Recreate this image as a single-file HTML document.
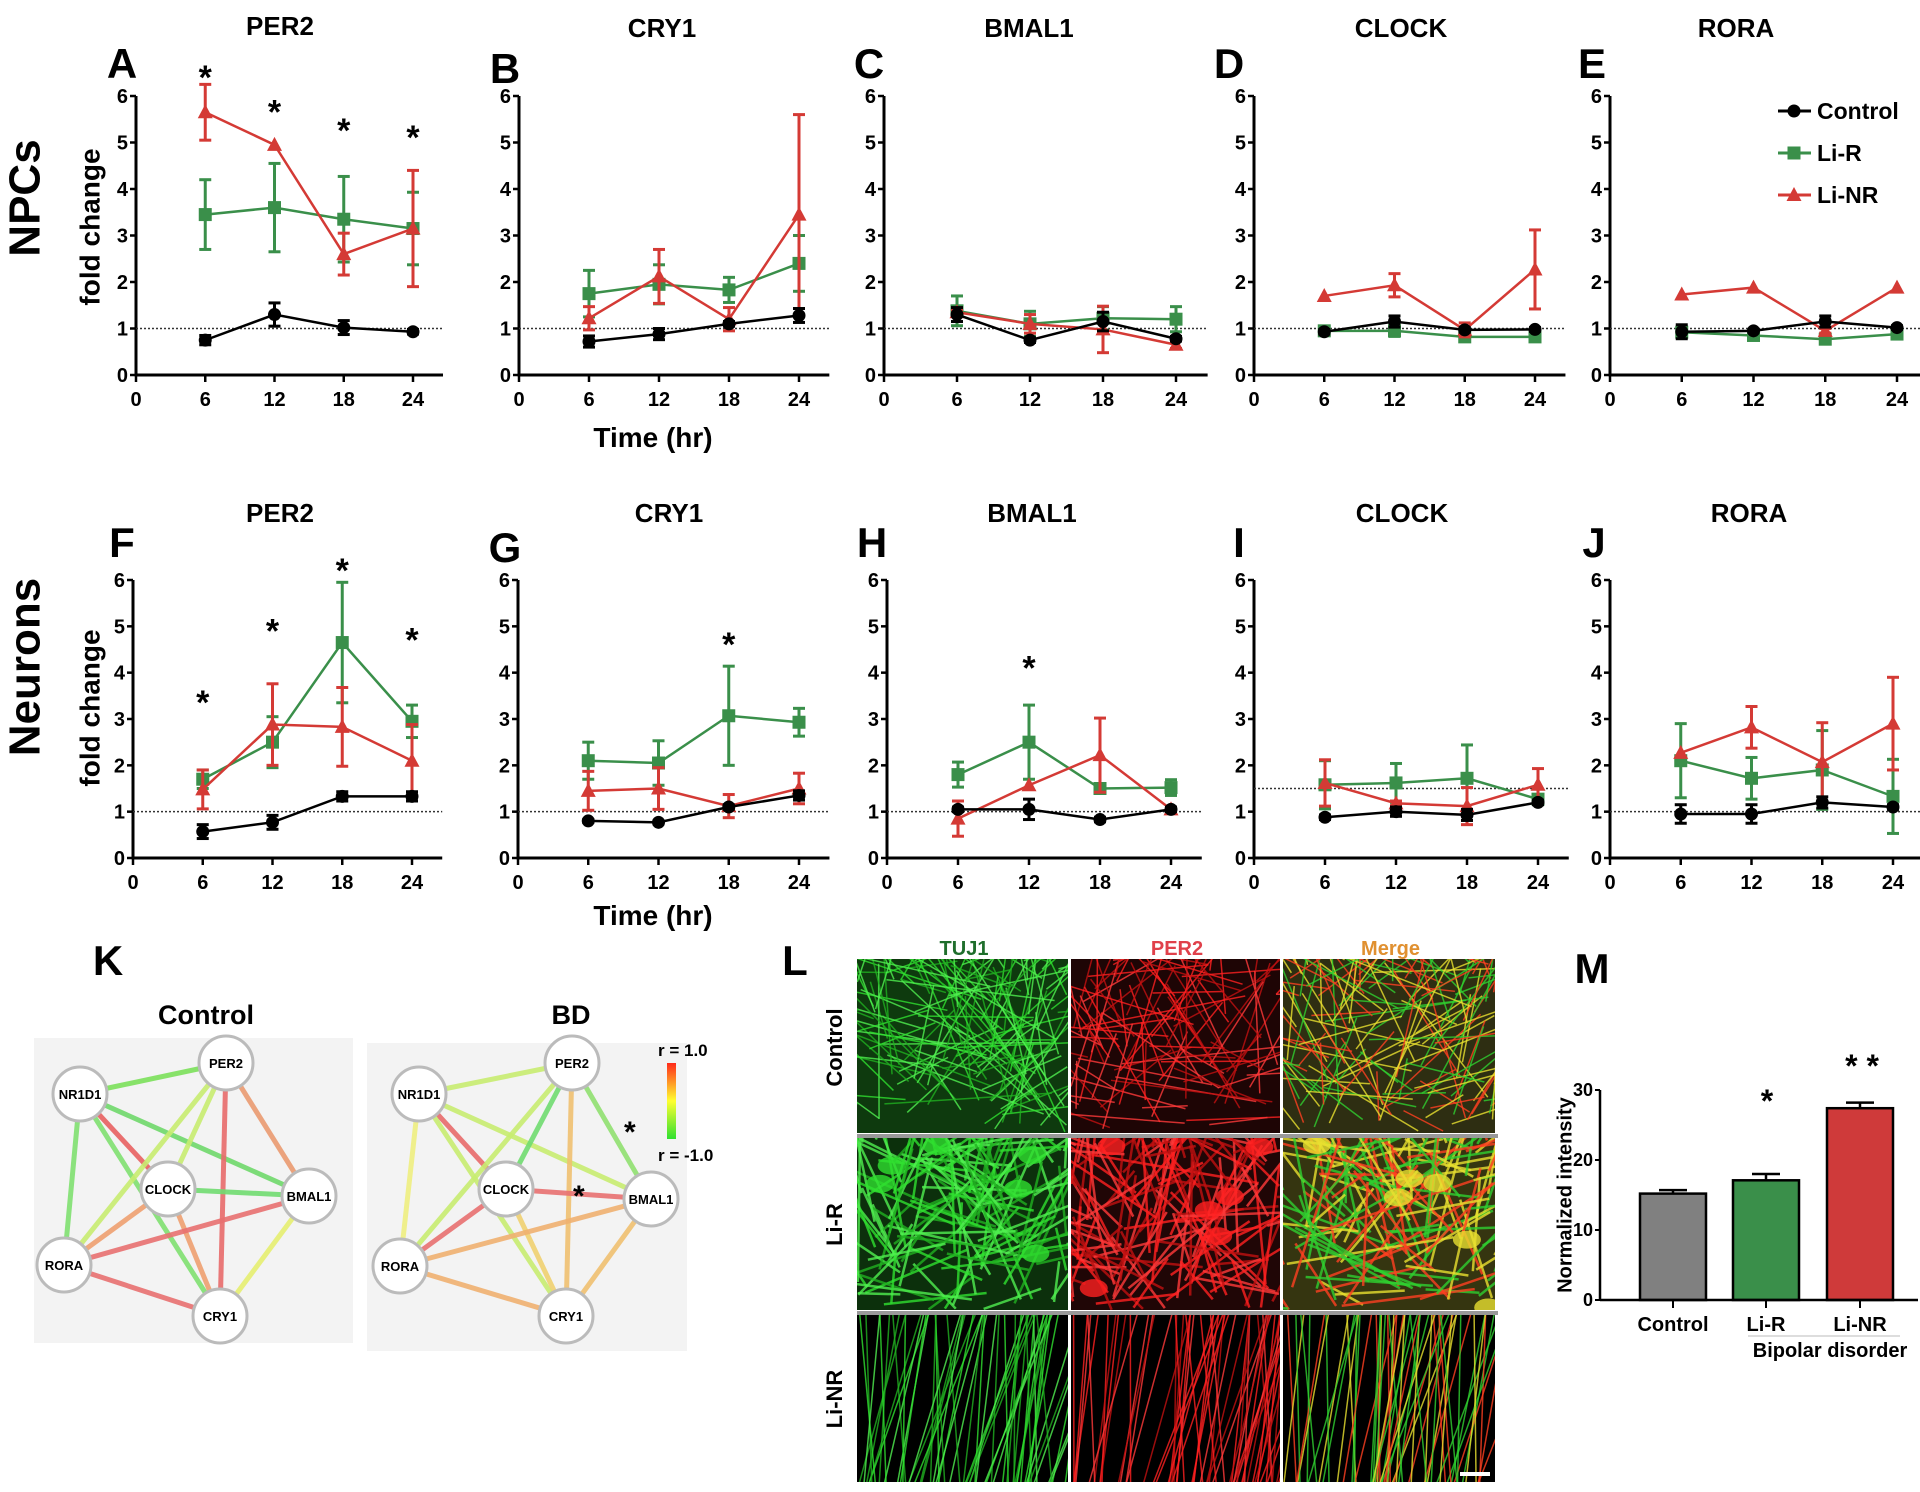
<!DOCTYPE html>
<html><head><meta charset="utf-8"><style>
html,body{margin:0;padding:0;background:#fff;}
svg{display:block;font-family:"Liberation Sans",Arial,sans-serif;}
</style></head><body>
<svg id="fig" width="1920" height="1492" viewBox="0 0 1920 1492" xmlns="http://www.w3.org/2000/svg"></svg>
<script>
// ===== Data =====
const times = [6, 12, 18, 24];
const yTicks = [0, 1, 2, 3, 4, 5, 6];
const xTicks = [0, 6, 12, 18, 24];
const seriesNames = ["Control", "Li-R", "Li-NR"];
const panelIds = ["A","B","C","D","E","F","G","H","I","J"];
const panelTitles = ["PER2","CRY1","BMAL1","CLOCK","RORA","PER2","CRY1","BMAL1","CLOCK","RORA"];
const ctrlVals = [
 [0.75,1.3,1.02,0.93],[0.72,0.88,1.1,1.28],[1.3,0.75,1.15,0.78],[0.93,1.15,0.97,0.98],[0.93,0.95,1.15,1.02],
 [0.57,0.77,1.33,1.33],[0.8,0.77,1.1,1.35],[1.05,1.05,0.83,1.05],[0.88,1.0,0.93,1.2],[0.95,0.95,1.2,1.1]];
const ctrlErr = [
 [0.1,0.25,0.15,0.05],[0.12,0.12,0.05,0.15],[0.15,0.05,0.2,0.05],[0.05,0.12,0.05,0.04],[0.15,0.03,0.12,0.04],
 [0.15,0.15,0.1,0.1],[0.03,0.03,0.05,0.1],[0.05,0.22,0.05,0.05],[0.05,0.1,0.12,0.05],[0.2,0.2,0.12,0.05]];
const lirVals = [
 [3.45,3.6,3.35,3.15],[1.75,1.95,1.83,2.4],[1.38,1.1,1.22,1.2],[0.95,0.95,0.82,0.82],[0.92,0.85,0.77,0.88],
 [1.7,2.5,4.65,2.95],[2.1,2.05,3.07,2.93],[1.8,2.5,1.5,1.52],[1.58,1.62,1.72,1.27],[2.1,1.72,1.9,1.33]];
const lirErr = [
 [0.75,0.95,0.92,0.78],[0.5,0.42,0.27,0.6],[0.32,0.27,0.25,0.27],[0.1,0.12,0.05,0.05],[0.08,0.05,0.05,0.05],
 [0.2,0.55,1.3,0.35],[0.4,0.48,1.07,0.3],[0.27,0.8,0.07,0.17],[0.52,0.42,0.72,0.1],[0.8,0.45,0.85,0.8]];
const linrVals = [
 [5.65,4.95,2.6,3.15],[1.22,2.12,1.2,3.45],[1.35,1.1,0.98,0.65],[1.7,1.93,0.97,2.27],[1.73,1.88,0.95,1.88],
 [1.48,2.88,2.83,2.1],[1.45,1.5,1.12,1.5],[0.85,1.57,2.22,1.05],[1.62,1.18,1.12,1.58],[2.27,2.82,2.07,2.9]];
const linrErr = [
 [0.6,0,0.45,1.25],[0.25,0.58,0.25,2.15],[0.05,0.2,0.5,0.08],[0,0.25,0.15,0.85],[0,0,0.05,0],
 [0.42,0.88,0.85,0.78],[0.42,0.45,0.25,0.33],[0.38,0,0.8,0],[0.5,0.05,0.4,0.35],[0,0.45,0.85,1.0]];
const refLine = [1,1,1,1,1,1,1,1,1.5,1];
const starPanel = [0,0,0,0,5,5,5,5,6,7];
const starTime = [6,12,18,24,6,12,18,24,18,12];
const starY = [6.5,5.75,5.35,5.2,3.45,5.0,6.3,4.8,4.7,4.2];
// bar chart M
const barCats = ["Control","Li-R","Li-NR"];
const barVals = [15.2, 17.1, 27.4];
const barErr = [0.5, 0.9, 0.8];
const barTicks = [0,10,20,30];

// ===== Layout =====
const NS="http://www.w3.org/2000/svg";
const svg=document.getElementById('fig');
function mk(tag, attrs, parent){const e=document.createElementNS(NS,tag);for(const k in attrs)e.setAttribute(k,attrs[k]);(parent||svg).appendChild(e);return e;}
function txt(s, attrs, parent){const e=mk('text',attrs,parent);e.textContent=s;return e;}

const panelGeom=[
 {x0:136,x24:413,y0:375,y6:96},{x0:519,x24:799,y0:375,y6:96},{x0:884,x24:1176,y0:375,y6:96},{x0:1254,x24:1535,y0:375,y6:96},{x0:1610,x24:1897,y0:375,y6:96},
 {x0:133,x24:412,y0:858,y6:580},{x0:518,x24:799,y0:858,y6:580},{x0:887,x24:1171,y0:858,y6:580},{x0:1254,x24:1538,y0:858,y6:580},{x0:1610,x24:1893,y0:858,y6:580}];
const titlePos=[[280,35],[662,37],[1029,37],[1401,37],[1736,37],[280,522],[669,522],[1032,522],[1402,522],[1749,522]];
const letterPos=[[122,77],[505,82],[869,77],[1229,77],[1592,77],[122,556],[505,561],[872,556],[1239,556],[1594,556]];
const colors=["#000000","#3a8f4a","#d43a35"];
const valsAll=[ctrlVals,lirVals,linrVals], errAll=[ctrlErr,lirErr,linrErr];

function marker(g,type,x,y,c){
  if(type===0) return mk('circle',{cx:x,cy:y,r:6.5,fill:c},g);
  if(type===1) return mk('rect',{x:x-6.5,y:y-6.5,width:13,height:13,fill:c},g);
  return mk('polygon',{points:`${x},${y-8} ${x+7.5},${y+6} ${x-7.5},${y+6}`,fill:c},g);
}

panelGeom.forEach((p,i)=>{
  const g=mk('g',{});
  
  
  const sx=t=>p.x0+(p.x24-p.x0)*t/24;
  const sy=v=>p.y0-(p.y0-p.y6)*v/6;
  const t=txt(panelTitles[i],{x:titlePos[i][0],y:titlePos[i][1],'font-size':26,'font-weight':'bold','text-anchor':'middle'},g);
  
  
  const l=txt(panelIds[i],{x:letterPos[i][0],y:letterPos[i][1]+1,'font-size':42,'font-weight':'bold','text-anchor':'middle'},g);
  
  
  const ya=mk('line',{x1:p.x0,y1:sy(6),x2:p.x0,y2:p.y0+1.5,stroke:'#000','stroke-width':3},g);
  
  
  const xa=mk('line',{x1:p.x0-1.5,y1:p.y0,x2:sx(26.6),y2:p.y0,stroke:'#000','stroke-width':3},g);
  
  
  yTicks.forEach(v=>{
    mk('line',{x1:p.x0-6,y1:sy(v),x2:p.x0,y2:sy(v),stroke:'#000','stroke-width':2.5},g);
    const tl=txt(String(v),{x:p.x0-8,y:sy(v)+7,'font-size':20,'font-weight':'bold','text-anchor':'end'},g);
    
    
  });
  xTicks.forEach(v=>{
    mk('line',{x1:sx(v),y1:p.y0,x2:sx(v),y2:p.y0+7,stroke:'#000','stroke-width':2.5},g);
    const tl=txt(String(v),{x:sx(v),y:p.y0+31,'font-size':20,'font-weight':'bold','text-anchor':'middle'},g);
    
    
  });
  const rl=mk('line',{x1:p.x0,y1:sy(refLine[i]),x2:sx(26.6),y2:sy(refLine[i]),stroke:'#333','stroke-width':1.5,'stroke-dasharray':'2,2'},g);
  
  
  [1,2,0].forEach(s=>{
    const vals=valsAll[s][i], errs=errAll[s][i], c=colors[s];
    const sg=mk('g',{},g);
    
    
    times.forEach((t,k)=>{
      if(errs[k]>0){
        const x=sx(t), yh=sy(vals[k]+errs[k]), yl=sy(Math.max(0,vals[k]-errs[k]));
        mk('line',{x1:x,y1:yh,x2:x,y2:yl,stroke:c,'stroke-width':3},sg);
        mk('line',{x1:x-6,y1:yh,x2:x+6,y2:yh,stroke:c,'stroke-width':3},sg);
        mk('line',{x1:x-6,y1:yl,x2:x+6,y2:yl,stroke:c,'stroke-width':3},sg);
      }
    });
    const pl=mk('polyline',{points:times.map((t,k)=>sx(t)+','+sy(vals[k])).join(' '),fill:'none',stroke:c,'stroke-width':2.5},sg);
    
    
    times.forEach((t,k)=>{
      const m=marker(sg,s,sx(t),sy(vals[k]),c);
      
      
    });
  });
});
starPanel.forEach((pi,k)=>{
  const p=panelGeom[pi];
  const x=p.x0+(p.x24-p.x0)*starTime[k]/24, y=p.y0-(p.y0-p.y6)*starY[k]/6;
  const s=txt('*',{x:x,y:y+16,'font-size':34,'font-weight':'bold','text-anchor':'middle'});
  
  
});
(function(){
  const lg=mk('g',{});
  
  
  const ys=[111,153,195];
  seriesNames.forEach((n,s)=>{
    const e=mk('g',{},lg);
    
    
    mk('line',{x1:1778,y1:ys[s],x2:1811,y2:ys[s],stroke:colors[s],'stroke-width':3},e);
    marker(e,s,1794,ys[s],colors[s]);
    txt(n,{x:1817,y:ys[s]+8,'font-size':23,'font-weight':'bold'},e);
  });
})();
function rot(s,x,y,size,name){const e=txt(s,{x:x,y:y,'font-size':size,'font-weight':'bold','text-anchor':'middle',transform:`rotate(-90 ${x} ${y})`,'dominant-baseline':'middle'});
  
  return e;}
rot('NPCs',28,198,44,'row-label-npcs');
rot('Neurons',28,667,44,'row-label-neurons');
rot('fold change',92,227,28,'y-axis-title');
rot('fold change',92,708,28,'y-axis-title');
let ta=txt('Time (hr)',{x:653,y:447,'font-size':28,'font-weight':'bold','text-anchor':'middle'});


ta=txt('Time (hr)',{x:653,y:925,'font-size':28,'font-weight':'bold','text-anchor':'middle'});



// ===== K networks =====
const nodeNames=["PER2","NR1D1","CLOCK","BMAL1","RORA","CRY1"];
const ctrlNodes=[[226,1063],[80,1094],[168,1189],[309,1196],[64,1265],[220,1316]];
const bdNodes=[[572,1063],[419,1094],[506,1189],[651,1199],[400,1266],[566,1316]];
const edgeList=[[1,0],[1,3],[1,2],[1,4],[1,5],[0,2],[0,4],[0,5],[0,3],[2,3],[2,4],[2,5],[4,3],[4,5],[3,5]];
const ctrlEdgeCol=["#7be05a","#6fd86a","#e86060","#7fe070","#7fe070","#c8ec70","#c8ec70","#e86a6a","#ea9a70","#70dc70","#eea070","#eea070","#e87070","#e87070","#e6ee70"];
const bdEdgeCol=["#c8ec70","#c8ec70","#e86a6a","#eeee80","#c8ec70","#70dc70","#c8ec70","#f0c070","#90e070","#e87070","#e87070","#f0d070","#f0b070","#f0b070","#f0c070"];
function network(nodes,cols,bx,by,bw,bh,title,tx,name){
  const g=mk('g',{});
  
  
  mk('rect',{x:bx,y:by,width:bw,height:bh,fill:'#f3f3f3'},g);
  const t=txt(title,{x:tx,y:1024,'font-size':27,'font-weight':'bold','text-anchor':'middle'},g);
  
  
  edgeList.forEach((e,k)=>{
    const a=nodes[e[0]],b=nodes[e[1]];
    const l=mk('line',{x1:a[0],y1:a[1],x2:b[0],y2:b[1],stroke:cols[k],'stroke-width':5,'stroke-opacity':0.9},g);
    
    
  });
  nodes.forEach((n,k)=>{
    const ng=mk('g',{},g);
    
    
    mk('circle',{cx:n[0],cy:n[1],r:27,fill:'#fff',stroke:'#bbb','stroke-width':3},ng);
    txt(nodeNames[k],{x:n[0],y:n[1]+5,'font-size':13,'font-weight':'bold','text-anchor':'middle'},ng);
  });
}
let kl=txt('K',{x:108,y:975,'font-size':42,'font-weight':'bold','text-anchor':'middle'});


network(ctrlNodes,ctrlEdgeCol,34,1038,319,305,'Control',206,'network-control');
network(bdNodes,bdEdgeCol,367,1043,320,308,'BD',571,'network-bd');
(function(){
  const d=mk('defs',{});
  const lgd=mk('linearGradient',{id:'cb',x1:0,y1:0,x2:0,y2:1},d);
  mk('stop',{offset:'0','stop-color':'#ff2a1a'},lgd);
  mk('stop',{offset:'0.5','stop-color':'#ffff30'},lgd);
  mk('stop',{offset:'1','stop-color':'#30e030'},lgd);
  const cb=mk('rect',{x:667,y:1063,width:9,height:76,fill:'url(#cb)'});
  
  
  let a=txt('r = 1.0',{x:658,y:1056,'font-size':17,'font-weight':'bold'});
  
  
  a=txt('r = -1.0',{x:658,y:1161,'font-size':17,'font-weight':'bold'});
  
  
  a=txt('*',{x:624,y:1142,'font-size':30,'font-weight':'bold'});
  
  
  a=txt('*',{x:573,y:1206,'font-size':30,'font-weight':'bold'});
  
  
})();

// ===== L micrographs (decorative texture) =====
(function(){
  const g=mk('g',{});
  
  
  txt('L',{x:795,y:975,'font-size':42,'font-weight':'bold','text-anchor':'middle'},g);
  const colX=[857,1071,1283,1498], rowY=[959,1136,1313,1485];
  const heads=[["TUJ1","#1f6e2c"],["PER2","#e0404a"],["Merge","#e09030"]];
  heads.forEach((h,c)=>{const t=txt(h[0],{x:(colX[c]+colX[c+1])/2,y:955,'font-size':20,'font-weight':'bold','text-anchor':'middle',fill:h[1]},g);
    
    });
  const rows=["Control","Li-R","Li-NR"];
  rows.forEach((r,k)=>{const cy=(rowY[k]+rowY[k+1])/2;const t=txt(r,{x:836,y:cy,'font-size':22,'font-weight':'bold','text-anchor':'middle','dominant-baseline':'middle',transform:`rotate(-90 836 ${cy})`},g);
    
    });
  let seed=7;const rnd=()=>{seed=(seed*16807)%2147483647;return seed/2147483647;};
  const palettes=[["#30e030","#20b020","#50f050"],["#ff2020","#c01010","#ff3a3a"],["#e8e030","#30d030","#ff4020"]];
  for(let r=0;r<3;r++)for(let c=0;c<3;c++){
    const x=colX[c],y=rowY[r],w=colX[c+1]-x-3,h=rowY[r+1]-y-3;
    const cell=mk('g',{},g);
    
    
    const cpId='cp'+r+c;
    const cp=mk('clipPath',{id:cpId},cell);mk('rect',{x:x,y:y,width:w,height:h},cp);
    const bg=[["#0e3a0e","#1e0505","#2e2e12"],["#0c300c","#200606","#353510"],["#000","#000","#000"]][r][c];
    mk('rect',{x:x,y:y,width:w,height:h,fill:bg},cell);
    const lg=mk('g',{'clip-path':`url(#${cpId})`},cell);
    const n=r===2?60:(c===1&&r===0?110:150);
    for(let i=0;i<n;i++){
      const pal=palettes[c];const col=pal[Math.floor(rnd()*pal.length)];
      let x1,y1,x2,y2;
      if(r===2){x1=x+rnd()*w;y1=y+h+5;x2=x1+(rnd()-0.2)*90;y2=y-5;}
      else{x1=x+rnd()*w;y1=y+rnd()*h;const a=rnd()*Math.PI;const L=40+rnd()*140;x2=x1+Math.cos(a)*L;y2=y1-Math.sin(a)*L;}
      mk('line',{x1:x1,y1:y1,x2:x2,y2:y2,stroke:col,'stroke-width':r===1?2.5:1.5,'stroke-opacity':0.8},lg);
    }
    if(r===1){for(let i=0;i<6;i++){mk('ellipse',{cx:x+rnd()*w,cy:y+rnd()*h,rx:14,ry:9,fill:palettes[c][0],'fill-opacity':0.8},lg);}}
  }
  mk('rect',{x:857,y:1134,width:641,height:4,fill:'#999'},g);
  mk('rect',{x:857,y:1311,width:641,height:4,fill:'#999'},g);
  mk('line',{x1:1460,y1:1474,x2:1490,y2:1474,stroke:'#fff','stroke-width':4},g);
})();

// ===== M bar chart =====
(function(){
  const g=mk('g',{});
  
  
  const ax=1600, y0=1300, y30=1090;
  const sy=v=>y0-(y0-y30)*v/30;
  const cx=[1673,1766,1860], bw=66;
  const fills=["#808080","#3a8f4a","#cf3a3a"];
  let t=txt('M',{x:1592,y:983,'font-size':42,'font-weight':'bold','text-anchor':'middle'},g);
  
  
  barVals.forEach((v,k)=>{
    const b=mk('rect',{x:cx[k]-bw/2,y:sy(v),width:bw,height:y0-sy(v),fill:fills[k],stroke:'#000','stroke-width':2.5},g);
    
    
    const ye=sy(v+barErr[k]);
    mk('line',{x1:cx[k],y1:sy(v),x2:cx[k],y2:ye,stroke:'#000','stroke-width':2.5},g);
    mk('line',{x1:cx[k]-14,y1:ye,x2:cx[k]+14,y2:ye,stroke:'#000','stroke-width':2.5},g);
    mk('line',{x1:cx[k],y1:y0,x2:cx[k],y2:y0+8,stroke:'#000','stroke-width':2},g);
    const l=txt(barCats[k],{x:cx[k],y:1331,'font-size':20,'font-weight':'bold','text-anchor':'middle'},g);
    
    
  });
  mk('line',{x1:ax,y1:y30,x2:ax,y2:y0,stroke:'#000','stroke-width':2.5},g);
  mk('line',{x1:ax,y1:y0,x2:1918,y2:y0,stroke:'#000','stroke-width':2.5},g);
  barTicks.forEach(v=>{
    mk('line',{x1:ax-5,y1:sy(v),x2:ax,y2:sy(v),stroke:'#000','stroke-width':2},g);
    const l=txt(String(v),{x:ax-7,y:sy(v)+6,'font-size':18,'font-weight':'bold','text-anchor':'end'},g);
    
    
  });
  const yt=txt('Normalized  intensity',{x:1566,y:1195,'font-size':20,'font-weight':'bold','text-anchor':'middle','dominant-baseline':'middle',transform:'rotate(-90 1566 1195)'},g);
  
  
  mk('line',{x1:1748,y1:1336,x2:1900,y2:1336,stroke:'#bbb','stroke-width':1},g);
  const bd=txt('Bipolar disorder',{x:1830,y:1357,'font-size':20,'font-weight':'bold','text-anchor':'middle'},g);
  
  
  let s=txt('*',{x:1767,y:1112,'font-size':32,'font-weight':'bold','text-anchor':'middle'},g);
  
  
  s=txt('* *',{x:1862,y:1077,'font-size':32,'font-weight':'bold','text-anchor':'middle'},g);
  
  
})();
</script>
</body></html>
